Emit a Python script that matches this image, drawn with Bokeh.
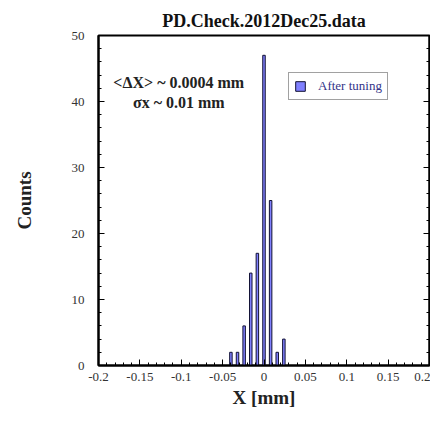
import numpy as np
from bokeh.plotting import figure
from bokeh.models import (FixedTicker, LinearAxis, Range1d, Label, Legend, LegendItem,
                          CustomJSTickFormatter)
from bokeh.embed import file_html
from bokeh.resources import INLINE

# ---- data ----
x_mm = [-0.040, -0.032, -0.024, -0.016, -0.008, 0.000, 0.008, 0.016, 0.024]
counts = [2, 2, 6, 14, 17, 47, 25, 2, 4]
x_ticks = [-0.2, -0.15, -0.1, -0.05, 0, 0.05, 0.1, 0.15, 0.2]
x_tick_labels = ["-0.2", "-0.15", "-0.1", "-0.05", "0", "0.05", "0.1", "0.15", "0.2"]
y_ticks = [0, 10, 20, 30, 40, 50]
title_text = "PD.Check.2012Dec25.data"
x_title = "X [mm]"
y_title = "Counts"
series_name = "After tuning"
note1 = "<\u0394X> ~ 0.0004 mm"
note2 = "\u03c3x ~ 0.01 mm"

FONT = "Liberation Serif"

p = figure(width=430, height=410, output_backend="svg", toolbar_location=None,
           x_range=Range1d(-0.2, 0.2), y_range=Range1d(0, 50),
           min_border_left=98, min_border_right=1, min_border_top=35, min_border_bottom=10)
p.background_fill_color = "white"
p.border_fill_color = "white"
p.grid.visible = False
p.outline_line_color = "black"
p.outline_line_width = 2

p.title.text = title_text
p.title.align = "center"
p.title.text_font = FONT
p.title.text_font_size = "18px"
p.title.text_font_style = "bold"
p.title.text_color = "#111111"
p.title.standoff = 10

r = p.vbar(x=x_mm, top=counts, width=0.003, bottom=0,
           fill_color="#8080ff", line_color="#111133", line_width=1)

x_minor = list(np.round(np.arange(-0.2, 0.2001, 0.01), 4))
y_minor = list(np.arange(0, 50.1, 2))

xa = p.xaxis[0]
xa.ticker = FixedTicker(ticks=x_ticks, minor_ticks=x_minor)
xa.major_label_overrides = {t: l for t, l in zip(x_ticks, x_tick_labels)}
ya = p.yaxis[0]
ya.ticker = FixedTicker(ticks=y_ticks, minor_ticks=y_minor)

for ax in (xa, ya):
    ax.axis_line_width = 2
    ax.axis_line_color = "black"
    ax.major_tick_in = 6
    ax.major_tick_out = 0
    ax.minor_tick_in = 3
    ax.minor_tick_out = 0
    ax.major_tick_line_color = "black"
    ax.minor_tick_line_color = "black"
    ax.major_label_text_font = FONT
    ax.major_label_text_font_size = "13px"
    ax.major_label_text_color = "#333333"
    ax.axis_label_text_font = FONT
    ax.axis_label_text_font_size = "19px"
    ax.axis_label_text_font_style = "bold"
    ax.axis_label_text_color = "#222222"

xa.axis_label = x_title
xa.major_label_standoff = 7
xa.axis_label_standoff = 3
ya.axis_label = y_title
ya.major_label_standoff = 14
ya.axis_label_standoff = 34

ra = LinearAxis(ticker=FixedTicker(ticks=y_ticks, minor_ticks=y_minor),
                formatter=CustomJSTickFormatter(code="return ''"))
ra.axis_line_width = 2
ra.major_tick_in = 6
ra.major_tick_out = 0
ra.minor_tick_in = 3
ra.minor_tick_out = 0
ra.major_label_standoff = 0
ra.major_label_text_font_size = "1px"
p.add_layout(ra, "right")

for txt, yv in ((note1, 42.9), (note2, 39.9)):
    p.add_layout(Label(x=-0.103, y=yv, text=txt, text_align="center", text_baseline="middle",
                       text_font=FONT, text_font_size="16px", text_font_style="bold",
                       text_color="#222222"))

legend = Legend(items=[LegendItem(label=series_name, renderers=[r])],
                location=(190, 265))
legend.label_text_font = FONT
legend.label_text_font_size = "13px"
legend.label_text_color = "#333388"
legend.glyph_width = 12
legend.glyph_height = 12
legend.label_height = 13
legend.padding = 5
legend.margin = 0
legend.label_standoff = 12
legend.border_line_color = "#444444"
legend.border_line_width = 1
legend.spacing = 0
p.add_layout(legend, "center")

open("out.html", "w").write(file_html(p, INLINE))
